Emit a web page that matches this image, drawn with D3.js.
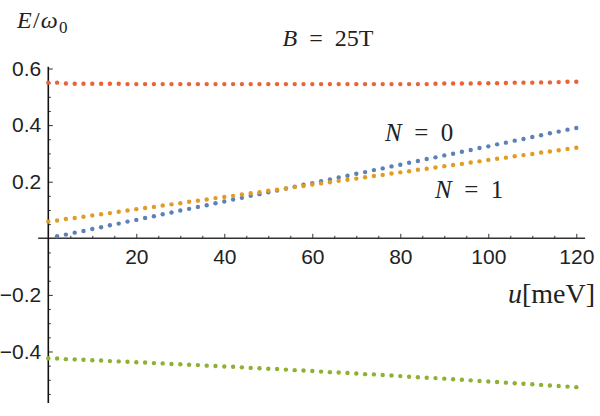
<!DOCTYPE html>
<html>
<head>
<meta charset="utf-8">
<script src="https://cdn.jsdelivr.net/npm/d3@7"></script>
<style>
  body { margin: 0; background: #fff; }
  .tick text { font-family: "Liberation Sans", Arial, sans-serif; font-size: 21px; fill: #222; }
  .lbl { font-family: "Liberation Serif", "Times New Roman", serif; fill: #222; }
</style>
</head>
<body>
<div id="chart"></div>
<script>
// u values in meV
var uVals = [0,2,4,6,8,10,12,14,16,18,20,22,24,26,28,30,32,34,36,38,40,42,44,46,48,50,52,54,56,58,60,
             62,64,66,68,70,72,74,76,78,80,82,84,86,88,90,92,94,96,98,100,102,104,106,108,110,112,114,116,118,120];

// E/w0, one per u value (blue has no visible point at u = 0)
var redVals = [0.550,0.550,0.547,0.546,0.546,0.546,0.546,0.546,0.546,0.545,0.545,0.545,0.545,0.545,0.545,0.545,
               0.545,0.545,0.545,0.545,0.545,0.545,0.545,0.545,0.545,0.545,0.545,0.545,0.545,0.545,0.545,0.545,
               0.545,0.545,0.545,0.545,0.545,0.545,0.545,0.545,0.545,0.545,0.545,0.545,0.546,0.547,0.547,0.547,
               0.547,0.548,0.548,0.548,0.549,0.550,0.550,0.550,0.551,0.551,0.552,0.553,0.553];
var blueVals = [null,0.007,0.013,0.020,0.026,0.033,0.039,0.046,0.052,0.059,0.065,0.072,0.078,0.085,0.091,0.098,
                0.104,0.111,0.117,0.124,0.130,0.137,0.143,0.150,0.156,0.163,0.169,0.176,0.182,0.189,0.195,0.202,
                0.208,0.215,0.221,0.228,0.234,0.241,0.247,0.254,0.260,0.267,0.273,0.280,0.286,0.293,0.299,0.306,
                0.312,0.319,0.325,0.332,0.338,0.345,0.351,0.358,0.364,0.371,0.377,0.384,0.390];
var orangeVals = [0.059,0.063,0.068,0.072,0.076,0.081,0.085,0.089,0.094,0.098,0.103,0.107,0.111,0.116,0.120,0.124,
                  0.129,0.133,0.137,0.142,0.146,0.150,0.155,0.159,0.163,0.168,0.172,0.176,0.181,0.185,0.190,0.194,
                  0.198,0.203,0.207,0.211,0.216,0.220,0.224,0.229,0.233,0.237,0.242,0.246,0.250,0.255,0.259,0.263,
                  0.268,0.272,0.277,0.281,0.285,0.290,0.294,0.298,0.303,0.307,0.311,0.316,0.320];
var greenVals = [-0.424,-0.425,-0.427,-0.428,-0.429,-0.431,-0.432,-0.434,-0.435,-0.436,-0.438,-0.439,-0.441,-0.442,
                 -0.444,-0.445,-0.447,-0.448,-0.450,-0.451,-0.453,-0.454,-0.456,-0.458,-0.459,-0.461,-0.462,-0.464,
                 -0.466,-0.467,-0.469,-0.471,-0.473,-0.474,-0.476,-0.478,-0.480,-0.481,-0.483,-0.485,-0.487,-0.489,
                 -0.491,-0.493,-0.494,-0.496,-0.498,-0.500,-0.502,-0.504,-0.506,-0.508,-0.510,-0.512,-0.514,-0.516,
                 -0.518,-0.520,-0.522,-0.524,-0.526];

var xTicks = [20, 40, 60, 80, 100, 120];
var yTicks = [-0.4, -0.2, 0.2, 0.4, 0.6];

var series = [
  { name: "red", color: "#EB6235", vals: redVals },
  { name: "blue", color: "#5E81B5", vals: blueVals },
  { name: "orange", color: "#E19C24", vals: orangeVals },
  { name: "green", color: "#8FB032", vals: greenVals }
];

var width = 600, height = 416;

var x = d3.scaleLinear().domain([0, 120]).range([48.3, 576.3]);
var y = d3.scaleLinear().domain([-0.582, 0.6064]).range([403, 66.7]);

var svg = d3.select("#chart").append("svg")
  .attr("width", width)
  .attr("height", height);

// minor ticks
var xMinor = d3.range(5, 121, 5).filter(function (d) { return d % 20 !== 0; });
var yMinor = d3.range(-0.55, 0.61, 0.05).filter(function (d) {
  return Math.abs(Math.round(d * 20) % 4) !== 0;
});

var axisColor = "#333";

svg.append("g")
  .attr("transform", "translate(0," + y(0) + ")")
  .call(d3.axisBottom(x).tickValues(xMinor).tickSize(-2.5).tickFormat(""))
  .call(function (g) { g.select(".domain").remove(); g.selectAll("line").attr("stroke", axisColor); });

svg.append("g")
  .attr("transform", "translate(" + x(0) + ",0)")
  .call(d3.axisLeft(y).tickValues(yMinor).tickSize(-2.5).tickFormat(""))
  .call(function (g) { g.select(".domain").remove(); g.selectAll("line").attr("stroke", axisColor); });

// major ticks + labels
svg.append("g")
  .attr("transform", "translate(0," + y(0) + ")")
  .call(d3.axisBottom(x).tickValues(xTicks).tickSize(-4.5).tickPadding(11).tickFormat(d3.format("d")))
  .call(function (g) { g.select(".domain").remove(); g.selectAll("line").attr("stroke", axisColor); });

svg.append("g")
  .attr("transform", "translate(" + x(0) + ",0)")
  .call(d3.axisLeft(y).tickValues(yTicks).tickSize(-4.5).tickPadding(7)
    .tickFormat(function (d) { return d3.format(".1f")(d).replace("-", "\u2212"); }))
  .call(function (g) { g.select(".domain").remove(); g.selectAll("line").attr("stroke", axisColor); });

// axis lines
svg.append("line")
  .attr("x1", x(-2.3)).attr("x2", x(122))
  .attr("y1", y(0)).attr("y2", y(0))
  .attr("stroke", axisColor).attr("stroke-width", 1.6);

svg.append("line")
  .attr("x1", x(0)).attr("x2", x(0))
  .attr("y1", y(-0.582)).attr("y2", y(0.6064))
  .attr("stroke", "#111").attr("stroke-width", 1.6);

// points
series.forEach(function (s) {
  var pts = uVals.map(function (u, i) { return { u: u, v: s.vals[i] }; })
    .filter(function (p) { return p.v !== null; });
  svg.append("g").selectAll("circle")
    .data(pts)
    .enter().append("circle")
      .attr("cx", function (d) { return x(d.u); })
      .attr("cy", function (d) { return y(d.v); })
      .attr("r", 2.2)
      .attr("fill", s.color);
});

// labels
var t1 = svg.append("text").attr("class", "lbl").attr("x", 17).attr("y", 28)
  .attr("font-size", 24).attr("letter-spacing", 1.2);
t1.append("tspan").attr("font-style", "italic").text("E");
t1.append("tspan").text("/");
t1.append("tspan").attr("font-style", "italic").text("\u03c9");
t1.append("tspan").attr("font-size", 17).attr("dy", 5).text("0");

var t2 = svg.append("text").attr("class", "lbl").attr("x", 328).attr("y", 46)
  .attr("font-size", 24).attr("text-anchor", "middle");
t2.append("tspan").attr("font-style", "italic").text("B");
t2.append("tspan").text("\u2002=\u200225T");

var t3 = svg.append("text").attr("class", "lbl").attr("x", 385).attr("y", 141).attr("font-size", 25);
t3.append("tspan").attr("font-style", "italic").text("N");
t3.append("tspan").text("\u2002=\u20020");

var t4 = svg.append("text").attr("class", "lbl").attr("x", 435).attr("y", 198).attr("font-size", 25);
t4.append("tspan").attr("font-style", "italic").text("N");
t4.append("tspan").text("\u2002=\u20021");

var t5 = svg.append("text").attr("class", "lbl").attr("x", 595).attr("y", 303)
  .attr("font-size", 28).attr("text-anchor", "end");
t5.append("tspan").attr("font-style", "italic").text("u");
t5.append("tspan").text("[meV]");
</script>
</body>
</html>
